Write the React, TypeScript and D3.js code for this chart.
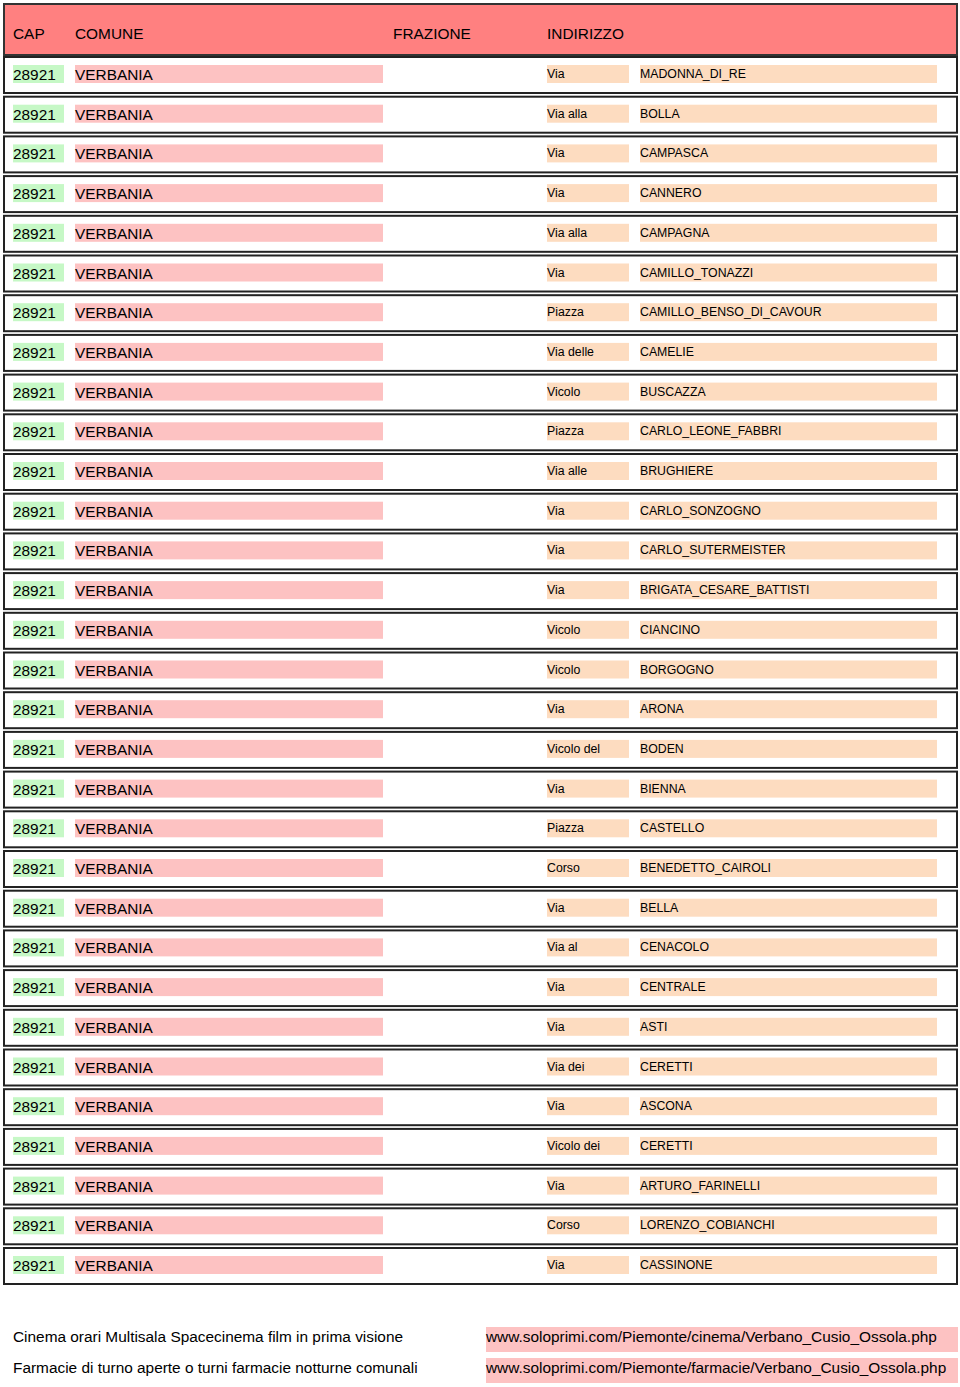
import React, { useEffect, useRef } from "react";
import * as d3 from "d3";

const columns = ["CAP", "COMUNE", "FRAZIONE", "INDIRIZZO"];

const tipi = [
  "Via", "Via alla", "Via", "Via", "Via alla", "Via", "Piazza", "Via delle",
  "Vicolo", "Piazza", "Via alle", "Via", "Via", "Via", "Vicolo", "Vicolo",
  "Via", "Vicolo del", "Via", "Piazza", "Corso", "Via", "Via al", "Via",
  "Via", "Via dei", "Via", "Vicolo dei", "Via", "Corso", "Via",
];

const strade = [
  "MADONNA_DI_RE", "BOLLA", "CAMPASCA", "CANNERO", "CAMPAGNA", "CAMILLO_TONAZZI",
  "CAMILLO_BENSO_DI_CAVOUR", "CAMELIE", "BUSCAZZA", "CARLO_LEONE_FABBRI",
  "BRUGHIERE", "CARLO_SONZOGNO", "CARLO_SUTERMEISTER", "BRIGATA_CESARE_BATTISTI",
  "CIANCINO", "BORGOGNO", "ARONA", "BODEN", "BIENNA", "CASTELLO",
  "BENEDETTO_CAIROLI", "BELLA", "CENACOLO", "CENTRALE", "ASTI", "CERETTI",
  "ASCONA", "CERETTI", "ARTURO_FARINELLI", "LORENZO_COBIANCHI", "CASSINONE",
];

const cap = "28921";
const comune = "VERBANIA";

const footerTexts = [
  "Cinema orari Multisala Spacecinema film in prima visione",
  "Farmacie di turno aperte o turni farmacie notturne comunali",
];
const footerLinks = [
  "www.soloprimi.com/Piemonte/cinema/Verbano_Cusio_Ossola.php",
  "www.soloprimi.com/Piemonte/farmacie/Verbano_Cusio_Ossola.php",
];

const W = 960;
const H = 1387;
const FONT = "Liberation Sans, Arial, sans-serif";
const BIG = 15.4;
const SMALL = 12.3;

export default function App() {
  const svgRef = useRef<SVGSVGElement>(null);

  useEffect(() => {
    const svg = d3.select(svgRef.current);
    svg.selectAll("*").remove();

    // header band
    const header = svg.append("g");
    header
      .append("rect")
      .attr("x", 4)
      .attr("y", 4)
      .attr("width", 953)
      .attr("height", 51)
      .attr("fill", "#ff8080")
      .attr("stroke", "#333")
      .attr("stroke-width", 2);

    const colX = d3
      .scaleOrdinal<string, number>()
      .domain(columns)
      .range([13, 75, 393, 547]);

    header
      .selectAll("text")
      .data(columns)
      .enter()
      .append("text")
      .attr("x", (d) => colX(d))
      .attr("y", 39)
      .attr("font-size", BIG)
      .attr("font-family", FONT)
      .attr("fill", "#000")
      .text((d) => d);

    // rows
    const idx = d3.range(strade.length);
    const y = d3
      .scaleLinear()
      .domain([0, strade.length - 1])
      .range([57, 57 + 39.7 * (strade.length - 1)]);

    const rows = svg
      .selectAll(".row")
      .data(idx)
      .enter()
      .append("g")
      .attr("class", "row")
      .attr("transform", (i) => `translate(0,${y(i)})`);

    rows
      .append("rect")
      .attr("x", 4)
      .attr("y", 0)
      .attr("width", 953)
      .attr("height", 36)
      .attr("fill", "#fff")
      .attr("stroke", "#222")
      .attr("stroke-width", 2);

    const cells = [
      { x: 13, w: 51, fill: "#c6f8c6" },
      { x: 75, w: 308, fill: "#fdc2c2" },
      { x: 547, w: 82, fill: "#fddcc0" },
      { x: 640, w: 297, fill: "#fddcc0" },
    ];
    cells.forEach((c) => {
      rows
        .append("rect")
        .attr("x", c.x)
        .attr("y", 8)
        .attr("width", c.w)
        .attr("height", 18)
        .attr("fill", c.fill);
    });

    rows
      .append("text")
      .attr("x", 13)
      .attr("y", 23)
      .attr("font-size", BIG)
      .attr("font-family", FONT)
      .attr("fill", "#000")
      .text(cap);

    rows
      .append("text")
      .attr("x", 75)
      .attr("y", 23)
      .attr("font-size", BIG)
      .attr("font-family", FONT)
      .attr("fill", "#000")
      .text(comune);

    rows
      .append("text")
      .attr("x", 547)
      .attr("y", 21)
      .attr("font-size", SMALL)
      .attr("font-family", FONT)
      .attr("fill", "#000")
      .text((i) => tipi[i]);

    rows
      .append("text")
      .attr("x", 640)
      .attr("y", 21)
      .attr("font-size", SMALL)
      .attr("font-family", FONT)
      .attr("fill", "#000")
      .text((i) => strade[i]);

    // footer
    const footY = [1342, 1373];
    const foot = svg.append("g");
    footerLinks.forEach((t, i) => {
      foot
        .append("rect")
        .attr("x", 486)
        .attr("y", footY[i] - 15)
        .attr("width", 472)
        .attr("height", 25)
        .attr("fill", "#fdc2c2");
      foot
        .append("text")
        .attr("x", 486)
        .attr("y", footY[i])
        .attr("font-size", BIG)
        .attr("font-family", FONT)
        .attr("fill", "#000")
        .text(t);
    });
    footerTexts.forEach((t, i) => {
      foot
        .append("text")
        .attr("x", 13)
        .attr("y", footY[i])
        .attr("font-size", BIG)
        .attr("font-family", FONT)
        .attr("fill", "#000")
        .text(t);
    });
  }, []);

  return (
    <svg
      ref={svgRef}
      width={W}
      height={H}
      style={{ position: "absolute", left: 0, top: 0, background: "#fff" }}
    />
  );
}
